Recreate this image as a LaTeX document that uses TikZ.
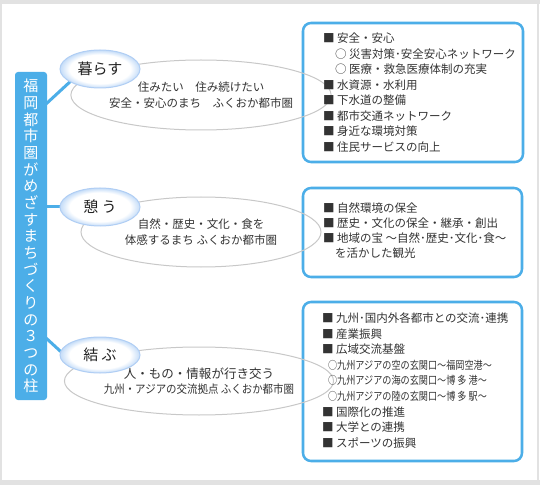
\documentclass[tikz,border=0pt]{standalone}
\usepackage{fontspec}
\setmainfont{Noto Sans CJK JP}
\usetikzlibrary{shapes.geometric,backgrounds}
\definecolor{barblue}{RGB}{76,174,232}
\definecolor{glowblue}{RGB}{196,220,248}
\definecolor{glowedge}{RGB}{176,206,244}
\definecolor{ringgray}{RGB}{200,200,200}
\definecolor{txt}{RGB}{51,51,51}
\definecolor{labeltxt}{RGB}{34,34,34}
\definecolor{framegray}{RGB}{226,226,226}
\pgfdeclareradialshading{glow}{\pgfpoint{0bp}{0bp}}{color(0bp)=(white); color(19bp)=(white); color(25bp)=(glowblue); color(50bp)=(glowblue)}
\begin{document}
\begin{tikzpicture}[x=0.75pt,y=-0.75pt,
  every node/.style={inner sep=0pt, outer sep=0pt},
  boxtxt/.style={anchor=west, text=txt, font=\fontsize{8.625pt}{10pt}\selectfont, text height=7.6pt, text depth=1pt},
  infobox/.style={draw=barblue, line width=1.9pt, rounded corners=6pt, fill=white},
  pill/.style={ellipse, shade, shading=glow, draw=glowedge, line width=0.75pt, minimum width=60pt, minimum height=28.5pt, text=labeltxt, font=\fontsize{11.25pt}{13pt}\selectfont},
  ring/.style={ellipse, draw=ringgray, line width=0.75pt, align=center, text=txt, font=\fontsize{8.625pt}{11.6pt}\selectfont},
  conn/.style={draw=barblue, line width=2.25pt}]
\useasboundingbox (0,0) rectangle (540,485);
% boxes
\node[infobox, minimum width=165pt, minimum height=104.25pt] (box1) at (413,92.5) {};
\node[infobox, minimum width=164.25pt, minimum height=66.75pt] (box2) at (412.5,232.5) {};
\node[infobox, minimum width=164.25pt, minimum height=119.25pt] (box3) at (412.5,381.5) {};
% description ellipses
\node[ring, minimum width=180pt, minimum height=52.5pt] (d1) at (201,95) {住みたい　住み続けたい\\安全・安心のまち　ふくおか都市圏};
\node[ring, minimum width=180pt, minimum height=52.5pt] (d2) at (201,232) {自然・歴史・文化・食を\\体感するまち ふくおか都市圏};
\node[ring, minimum width=178.5pt, minimum height=51pt] (d3) at (199,381) {{\fontsize{9.4pt}{11.6pt}\selectfont 人・もの・情報が行き交う}\\\scalebox{0.91}[1]{九州・アジアの交流拠点 ふくおか都市圏}};
% category pills
\node[pill] (kurasu) at (100,69) {暮らす};
\node[pill] (ikou) at (100,207) {憩 う};
\node[pill, minimum height=27pt] (musubu) at (100,355) {結 ぶ};
% bar
\node[fill=barblue, rounded corners=2.25pt, minimum width=24pt, minimum height=246pt, align=center, text=white, font=\fontsize{11.25pt}{12.5pt}\selectfont] (bar) at (31,236) {福\\岡\\都\\市\\圏\\が\\め\\ざ\\す\\ま\\ち\\づ\\く\\り\\の\\３\\つ\\の\\柱};
% frame and connectors behind everything
\coordinate (c1) at (46,104);
\coordinate (c3) at (46,338);
\begin{scope}[on background layer]
\fill[white] (0,0) rectangle (540,485);
\fill[framegray] (0,0) rectangle (540,4);
\fill[framegray] (0,480) rectangle (540,485);
\fill[framegray] (0,4) rectangle (2,480);
\fill[framegray] (537,4) rectangle (539,480);
\draw[conn] (c1) -- (kurasu.203);
\draw[conn] (bar.east |- ikou) -- (ikou.west);
\draw[conn] (c3) -- (musubu.175);
\end{scope}
% box 1 text
\node[boxtxt] (t11) at (323,38.5) {■ 安全・安心};
\node[boxtxt] (t12) at (335,53.95) {○ 災害対策･安全安心ネットワーク};
\node[boxtxt] (t13) at (335,69.4) {○ 医療・救急医療体制の充実};
\node[boxtxt] (t14) at (323,84.85) {■ 水資源・水利用};
\node[boxtxt] (t15) at (323,100.3) {■ 下水道の整備};
\node[boxtxt] (t16) at (323,115.75) {■ 都市交通ネットワーク};
\node[boxtxt] (t17) at (323,131.2) {■ 身近な環境対策};
\node[boxtxt] (t18) at (323,146.65) {■ 住民サービスの向上};
% box 2 text
\node[boxtxt] (t21) at (323,208) {■ 自然環境の保全};
\node[boxtxt] (t22) at (323,223) {■ 歴史・文化の保全・継承・創出};
\node[boxtxt] (t23) at (323,238) {■ 地域の宝 ～自然･歴史･文化･食～};
\node[boxtxt] (t24) at (335,253) {を活かした観光};
% box 3 text
\node[boxtxt] (t31) at (322,318) {■ 九州･国内外各都市との交流･連携};
\node[boxtxt] (t32) at (322,333.6) {■ 産業振興};
\node[boxtxt] (t33) at (322,349.2) {■ 広域交流基盤};
\node[boxtxt] (t34) at (328,364.8) {\scalebox{0.83}[1]{\fontsize{8.25pt}{10pt}\selectfont ○九州アジアの空の玄関口～福岡空港～}};
\node[boxtxt] (t35) at (328,380.4) {\scalebox{0.83}[1]{\fontsize{8.25pt}{10pt}\selectfont ○九州アジアの海の玄関口～博 多 港～}};
\node[boxtxt] (t36) at (328,396) {\scalebox{0.83}[1]{\fontsize{8.25pt}{10pt}\selectfont ○九州アジアの陸の玄関口～博 多 駅～}};
\node[boxtxt] (t37) at (322,411.6) {■ 国際化の推進};
\node[boxtxt] (t38) at (322,427.2) {■ 大学との連携};
\node[boxtxt] (t39) at (322,442.8) {■ スポーツの振興};
\end{tikzpicture}
\end{document}
